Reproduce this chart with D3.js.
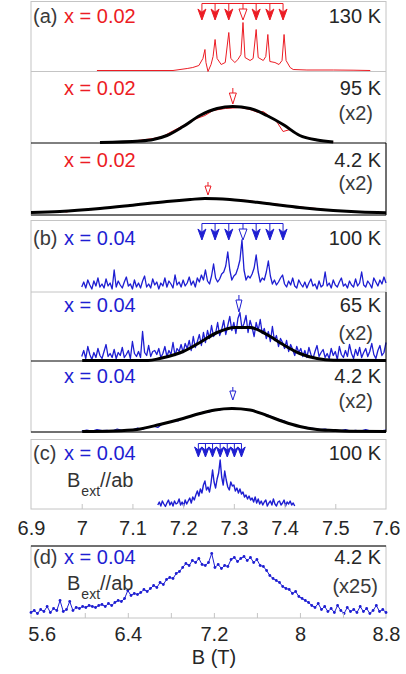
<!DOCTYPE html>
<html>
<head>
<meta charset="utf-8">
<script src="https://cdn.jsdelivr.net/npm/d3@7"></script>
<style>
  body { margin: 0; background: #fff; }
  svg { display: block; }
  text { font-family: "Liberation Sans", Arial, sans-serif; }
</style>
</head>
<body>
<div id="chart"></div>
<script>
// ---- tick values ----
const ticksTop = [6.9, 7.0, 7.1, 7.2, 7.3, 7.4, 7.5, 7.6];
const minorTop = [7.0, 7.1, 7.2, 7.3, 7.4, 7.5];
const ticksD = [5.6, 6.4, 7.2, 8.0, 8.8];
const minorD = [6.0, 6.4, 6.8, 7.2, 7.6, 8.0, 8.4];

// ---- arrow (satellite) positions, B in T ----
const satA = [7.237, 7.263, 7.290, 7.318, 7.344, 7.371, 7.397];
const satC = [7.230, 7.244, 7.258, 7.273, 7.287, 7.301, 7.315];

// ---- (a) x=0.02, 130 K ----
const a130Field = [7.030, 7.180, 7.208, 7.219, 7.231, 7.239, 7.243, 7.245, 7.249, 7.255, 7.259, 7.263, 7.267, 7.275, 7.283, 7.290, 7.294, 7.302, 7.308, 7.314, 7.318, 7.322, 7.332, 7.338, 7.344, 7.348, 7.358, 7.363, 7.367, 7.371, 7.381, 7.389, 7.395, 7.399, 7.403, 7.411, 7.417, 7.444, 7.496, 7.535, 7.569];
const a130Amp = [0, 0, 2, 3, 5, 12, 21, 8, -1, 6, 14, 31, 12, 6, 8, 38, 12, 8, 11, 16, 48, 13, 10, 12, 41, 13, 10, 14, 36, 9, 8, 6, 10, 36, 10, 3, 1, 0.5, 0.5, 0.3, 0];

// ---- (a) 95 K ----
const a95Field = [7.036, 7.095, 7.141, 7.160, 7.174, 7.204, 7.227, 7.243, 7.259, 7.283, 7.312, 7.332, 7.348, 7.358, 7.371, 7.383, 7.397, 7.411, 7.430, 7.460, 7.496];
const a95Amp = [0, 1, 4, 6, 10, 18, 24, 27, 32, 34, 35, 33, 30, 31, 26, 22, 11, 13, 7, 3, 0.5];
const a95FitField = [7.036, 7.115, 7.141, 7.168, 7.200, 7.233, 7.267, 7.298, 7.332, 7.365, 7.397, 7.430, 7.464, 7.496];
const a95FitAmp = [0, 1.5, 3, 7, 16, 27, 34, 36, 34, 27, 18, 7, 2.5, 0.5];

// ---- (a) 4.2 K ----
const a4Start = 6.9, a4Step = 0.01;
const a4Amp = [0.5, 1.5, 1, 2, 1.2, 1.8, 2.5, 1.5, 2.8, 3,
  3.5, 4.2, 3.8, 5, 5.5, 5, 6.2, 6.8, 7, 7.5,
  8.2, 8.5, 9.5, 9.2, 10.5, 11, 11.5, 12.2, 12, 13,
  13.2, 13.8, 14.5, 14.2, 15.2, 15, 15, 14.5, 14.8, 14.2,
  14, 13.5, 13.2, 12.8, 12, 11.5, 10.8, 10, 9.8, 9,
  8.2, 7.8, 7, 6.8, 6, 5.5, 5.2, 4.5, 4, 3.8,
  3, 2.8, 2.2, 2.5, 1.5, 2, 1.2, 1.6, 0.8, 1.2, 0.6];
const a4FitField = [6.900, 6.957, 7.036, 7.095, 7.168, 7.214, 7.243, 7.292, 7.365, 7.430, 7.496, 7.549, 7.600];
const a4FitAmp = [1, 2, 5, 8, 12, 14, 15, 14, 10, 6, 3, 1.5, 0.8];

// ---- (b) x=0.04, 100 K ----
const b100Start = 7.0, b100Step = 0.004;
const b100Amp = [3, 8, 2, 10, 5, 1, 9, 4, 12, 3,
  6, 2, 11, 4, 7, 1, 20, 3, 9, 5,
  2, 8, 13, 4, 6, 1, 10, 3, 7, 2,
  9, 14, 3, 6, 2, 11, 5, 8, 1, 7,
  4, 12, 3, 9, 6, 2, 15, 5, 8, 3,
  10, 4, 7, 13, 5, 9, 3, 12, 8, 15,
  10, 20, 9, 6, 14, 26, 12, 8, 11, 16,
  18, 24, 38, 20, 10, 14, 16, 22, 30, 50,
  20, 10, 14, 12, 16, 22, 35, 18, 8, 12,
  10, 18, 29, 14, 6, 10, 5, 8, 12, 15,
  6, 3, 9, 5, 12, 4, 2, 10, 6, 3,
  8, 2, 7, 11, 4, 6, 1, 9, 3, 5,
  18, 4, 7, 2, 10, 5, 3, 8, 12, 4,
  6, 2, 9, 5, 3, 11, 4, 7, 18, 5,
  3, 9, 6, 2, 12, 8, 4, 10, 6, 13, 7];

// ---- (b) 65 K ----
const b65Start = 7.0, b65Step = 0.004;
const b65Amp = [4, 10, 2, 14, 6, 1, 8, 3, 12, 5,
  2, 9, 16, 4, 7, 3, 11, 2, 8, 5,
  13, 3, 6, 10, 2, 19, 7, 4, 9, 3,
  29, 8, 5, 15, 4, 9, 10, 6, 12, 3,
  7, 14, 4, 10, 6, 18, 5, 12, 9, 16,
  8, 17, 12, 20, 10, 24, 13, 19, 26, 15,
  28, 18, 30, 22, 35, 24, 27, 38, 25, 31,
  40, 26, 35, 44, 30, 38, 27, 42, 48, 32,
  37, 45, 28, 40, 33, 24, 38, 30, 41, 27,
  32, 22, 29, 19, 34, 20, 25, 14, 22, 18,
  12, 20, 9, 16, 11, 5, 14, 8, 12, 4,
  10, 3, 13, 6, 2, 9, 15, 4, 8, 11,
  3, 7, 2, 12, 5, 9, 1, 14, 6, 3,
  10, 4, 16, 7, 2, 11, 5, 13, 3, 8,
  12, 4, 9, 17, 6, 2, 10, 15, 5, 8, 18];
const b65FitField = [7.001, 7.131, 7.154, 7.184, 7.200, 7.233, 7.267, 7.302, 7.332, 7.365, 7.397, 7.430, 7.464, 7.496, 7.600];
const b65FitAmp = [0, 0, 2, 6, 9, 18, 28, 33, 33, 26, 16, 7, 2, 0.3, 0];

// ---- (b) 4.2 K ----
const b4Start = 7.0, b4Step = 0.01;
const b4Amp = [0.5, 1.5, 0.3, 2, 0.8, 1.2, 0.5, 2.5, 1, 1.8,
  1.5, 3.5, 2, 4.5, 5.5, 4, 8, 8.5, 11, 10.5,
  13.5, 14, 16.5, 17, 19.5, 19, 21.5, 21, 23, 22.5,
  23.5, 22.5, 22.8, 21.5, 20.5, 19, 17.5, 16, 13.5, 12,
  10.5, 7.5, 6.5, 5, 4.5, 3.5, 3, 2, 2.5, 1.2,
  1.5, 0.6, 2, 0.4, 1.2, 0.5, 1.8, 0.3, 1, 0.6, 1.4];
const b4FitField = [7.001, 7.062, 7.109, 7.154, 7.200, 7.233, 7.263, 7.296, 7.332, 7.365, 7.397, 7.430, 7.464, 7.496, 7.529, 7.600];
const b4FitAmp = [0, 0.5, 2, 7, 13, 18, 21.5, 23, 21.5, 16, 10, 5, 2, 1, 0.3, 0];

// ---- (c) x=0.04, 100 K, B//ab ----
const cStart = 7.15, cStep = 0.003;
const cAmp = [2, 5, 1, 6, 3, 0.5, 4, 7, 2, 5,
  1, 6, 3, 4, 8, 2, 5, 1, 7, 3,
  6, 9, 4, 10, 7, 12, 16, 11, 18, 14,
  22, 26, 17, 20, 15, 24, 37, 25, 19, 28,
  34, 47, 30, 22, 36, 27, 20, 17, 25, 21,
  22, 16, 19, 14, 18, 13, 15, 10, 12, 8,
  11, 7, 9, 5, 10, 4, 8, 3, 6, 2,
  5, 7, 1, 4, 6, 2, 8, 3, 1, 5,
  6, 2, 4, 7, 1, 5, 3, 6, 2, 4, 1];

// ---- (d) x=0.04, 4.2 K, B//ab ----
const dStart = 5.5, dStep = 0.03;
const dAmp = [3, 5, 2, 6, 4, 9, 3, 7, 5, 15,
  4, 6, 14, 5, 8, 7, 9, 8, 10, 9,
  8, 10, 11, 9, 12, 10, 13, 15, 14, 17,
  25, 20, 22, 21, 23, 26, 24, 27, 30, 28,
  33, 31, 36, 38, 37, 42, 44, 48, 52, 50,
  55, 53, 57, 51, 50, 53, 62, 48, 51, 47,
  50, 49, 56, 58, 54, 57, 59, 55, 58, 53,
  56, 50, 49, 45, 40, 37, 35, 33, 29, 27,
  26, 22, 24, 19, 17, 15, 13, 10, 8, 12,
  6, 9, 4, 7, 3, 10, 5, 2, 8, 4,
  6, 3, 9, 4, 7, 2, 5, 10, 4, 6, 3];

const RED = "#ec1c24", BLUE = "#1e1ed2", TXT = "#262626", GRID = "#c4c4c4";

const width = 406, height = 674;
const svg = d3.select("#chart").append("svg")
  .attr("width", width).attr("height", height);

const xTop = d3.scaleLinear().domain([6.9, 7.6]).range([31, 386]);
const xD = d3.scaleLinear().domain([5.5, 8.8]).range([31, 386]);

// y scale per panel: 1 unit = 1 px above the baseline
function yScale(base) {
  return d3.scaleLinear().domain([0, 100]).range([base, base - 100]);
}
const zip = (f, a) => f.map((v, i) => [v, a[i]]);
const grid = (start, step, a) => a.map((v, i) => [start + i * step, v]);

function drawLine(pts, x, base, color, w) {
  const y = yScale(base);
  const line = d3.line().x(d => x(d[0])).y(d => y(d[1]));
  return svg.append("path").datum(pts)
    .attr("d", line).attr("fill", "none")
    .attr("stroke", color).attr("stroke-width", w)
    .attr("stroke-linejoin", "round");
}
function drawFit(pts, x, base) {
  const y = yScale(base);
  const line = d3.line().x(d => x(d[0])).y(d => y(d[1])).curve(d3.curveMonotoneX);
  svg.append("path").datum(pts)
    .attr("d", line).attr("fill", "none")
    .attr("stroke", "#000").attr("stroke-width", 3);
}

// frames
function frame(y0, y1) {
  svg.append("rect").attr("x", 31).attr("y", y0).attr("width", 355).attr("height", y1 - y0)
    .attr("fill", "none").attr("stroke", GRID);
}
function hline(y, x0, x1, c) {
  svg.append("line").attr("x1", x0).attr("x2", x1).attr("y1", y).attr("y2", y)
    .attr("stroke", c).attr("stroke-width", 1);
}
function vline(x, y0, y1, c) {
  svg.append("line").attr("x1", x).attr("x2", x).attr("y1", y0).attr("y2", y1)
    .attr("stroke", c).attr("stroke-width", 1);
}
frame(1.5, 215); hline(71.5, 31, 386, GRID);
frame(220.5, 432); hline(292, 31, 386, GRID);
frame(439.5, 509);
frame(546, 618);

// data
drawLine(zip(a130Field, a130Amp), xTop, 70.5, RED, 1);
drawLine(zip(a95Field, a95Amp), xTop, 142.5, RED, 1);
drawFit(zip(a95FitField, a95FitAmp), xTop, 142.5);
drawLine(grid(a4Start, a4Step, a4Amp), xTop, 213.5, RED, 1);
drawFit(zip(a4FitField, a4FitAmp), xTop, 213.5);

drawLine(grid(b100Start, b100Step, b100Amp), xTop, 290, BLUE, 1.3);
drawLine(grid(b65Start, b65Step, b65Amp), xTop, 360.5, BLUE, 1.3);
drawFit(zip(b65FitField, b65FitAmp), xTop, 360.5);
drawLine(grid(b4Start, b4Step, b4Amp), xTop, 431.5, BLUE, 1.2);
drawFit(zip(b4FitField, b4FitAmp), xTop, 431.5);

drawLine(grid(cStart, cStep, cAmp), xTop, 507, BLUE, 1.4);

const dPts = grid(dStart, dStep, dAmp);
drawLine(dPts, xD, 615.5, BLUE, 1);
const yd = yScale(615.5);
svg.append("g").selectAll("circle").data(dPts).join("circle")
  .attr("cx", d => xD(d[0])).attr("cy", d => yd(d[1])).attr("r", 1.4).attr("fill", BLUE);

// black edges
hline(143, 31, 386, "#000"); hline(215, 31, 386, "#000"); vline(386, 143, 215, "#000");
hline(361, 31, 386, "#000"); hline(432, 31, 386, "#000"); vline(386, 292, 432, "#000");
hline(546, 31, 386, "#000");

// inward ticks
svg.append("g").attr("transform", "translate(0,509)")
  .call(d3.axisTop(xTop).tickValues(minorTop).tickSize(5).tickFormat(""))
  .call(g => g.select(".domain").remove())
  .call(g => g.selectAll("line").attr("stroke", GRID));
svg.append("g").attr("transform", "translate(0,618)")
  .call(d3.axisTop(xD).tickValues(minorD).tickSize(5).tickFormat(""))
  .call(g => g.select(".domain").remove())
  .call(g => g.selectAll("line").attr("stroke", GRID));

// tick labels
function labels(x, ticks, y) {
  svg.append("g").attr("transform", `translate(0,${y})`)
    .call(d3.axisBottom(x).tickValues(ticks).tickSize(0).tickPadding(0).tickFormat(d3.format("~g")))
    .call(g => g.select(".domain").remove())
    .call(g => g.selectAll("text").attr("font-size", 20).attr("fill", TXT)
      .attr("font-family", "Liberation Sans, Arial, sans-serif").attr("dy", null).attr("y", 0));
}
labels(xTop, ticksTop, 535);
labels(xD, ticksD, 641);
svg.append("text").attr("x", 214).attr("y", 664).attr("text-anchor", "middle")
  .attr("font-size", 20).attr("fill", TXT).text("B (T)");

// arrows
function arrowHead(x, top, bot, w, color, open) {
  const p = d3.path();
  if (open) {
    p.moveTo(x - w / 2, top); p.lineTo(x, bot); p.lineTo(x + w / 2, top); p.closePath();
  } else {
    p.moveTo(x - w / 2, top); p.lineTo(x, bot); p.lineTo(x + w / 2, top);
    p.lineTo(x, top + (bot - top) * 0.3); p.closePath();
  }
  svg.append("path").attr("d", p.toString())
    .attr("fill", open ? "#fff" : color).attr("stroke", color).attr("stroke-width", 1);
}
function arrowSet(fields, x, barY, top, bot, w, color, openIdx) {
  if (fields.length > 1) hline(barY, x(fields[0]), x(fields[fields.length - 1]), color);
  fields.forEach((f, i) => {
    vline(x(f), barY, top + (bot - top) * 0.3, color);
    arrowHead(x(f), top, bot, w, color, i === openIdx);
  });
}
arrowSet(satA, xTop, 3.5, 9, 20, 8, RED, 3);
arrowSet([a95FitField[7]], xTop, 88, 93, 104, 7, RED, 0);
arrowSet([7.249], xTop, 182, 186, 195, 6, RED, 0);
arrowSet(satA, xTop, 223.5, 229, 240, 8, BLUE, 3);
arrowSet([7.310], xTop, 295, 300, 312, 6, BLUE, 0);
arrowSet([7.298], xTop, 387, 391, 400, 6, BLUE, 0);
arrowSet(satC, xTop, 443.5, 447, 457, 7.5, BLUE, -1);

// text labels
function txt(x, y, s, color, anchor, serif) {
  svg.append("text").attr("x", x).attr("y", y).attr("font-size", 20)
    .attr("fill", color).attr("text-anchor", anchor || "start")
    .attr("font-family", serif ? "Liberation Serif, Times New Roman, serif" : null)
    .text(s);
}
function bext(x, y) {
  const t = svg.append("text").attr("x", x).attr("y", y).attr("font-size", 20).attr("fill", "#333");
  t.append("tspan").text("B");
  t.append("tspan").attr("font-size", 14).attr("dy", 9).attr("dx", 1).text("ext");
  t.append("tspan").attr("dy", -9).text("//ab");
}
txt(33, 23, "(a)", "#3a3a3a"); txt(64, 23, "x = 0.02", RED); txt(381, 23, "130 K", TXT, "end");
txt(64, 95, "x = 0.02", RED); txt(381, 95, "95 K", TXT, "end"); txt(373, 120, "(x2)", "#3a3a3a", "end", true);
txt(64, 167, "x = 0.02", RED); txt(381, 167, "4.2 K", TXT, "end"); txt(373, 190, "(x2)", "#3a3a3a", "end", true);
txt(33, 245, "(b)", "#3a3a3a"); txt(64, 245, "x = 0.04", BLUE); txt(381, 245, "100 K", TXT, "end");
txt(64, 312, "x = 0.04", BLUE); txt(381, 312, "65 K", TXT, "end"); txt(373, 340, "(x2)", "#3a3a3a", "end", true);
txt(64, 383, "x = 0.04", BLUE); txt(381, 383, "4.2 K", TXT, "end"); txt(373, 408, "(x2)", "#3a3a3a", "end", true);
txt(33, 460, "(c)", "#3a3a3a"); txt(64, 460, "x = 0.04", BLUE); txt(381, 460, "100 K", TXT, "end");
bext(67, 487);
txt(33, 564, "(d)", "#3a3a3a"); txt(64, 564, "x = 0.04", BLUE); txt(381, 564, "4.2 K", TXT, "end");
txt(378, 593, "(x25)", "#3a3a3a", "end", true);
bext(67, 590);
</script>
</body>
</html>
